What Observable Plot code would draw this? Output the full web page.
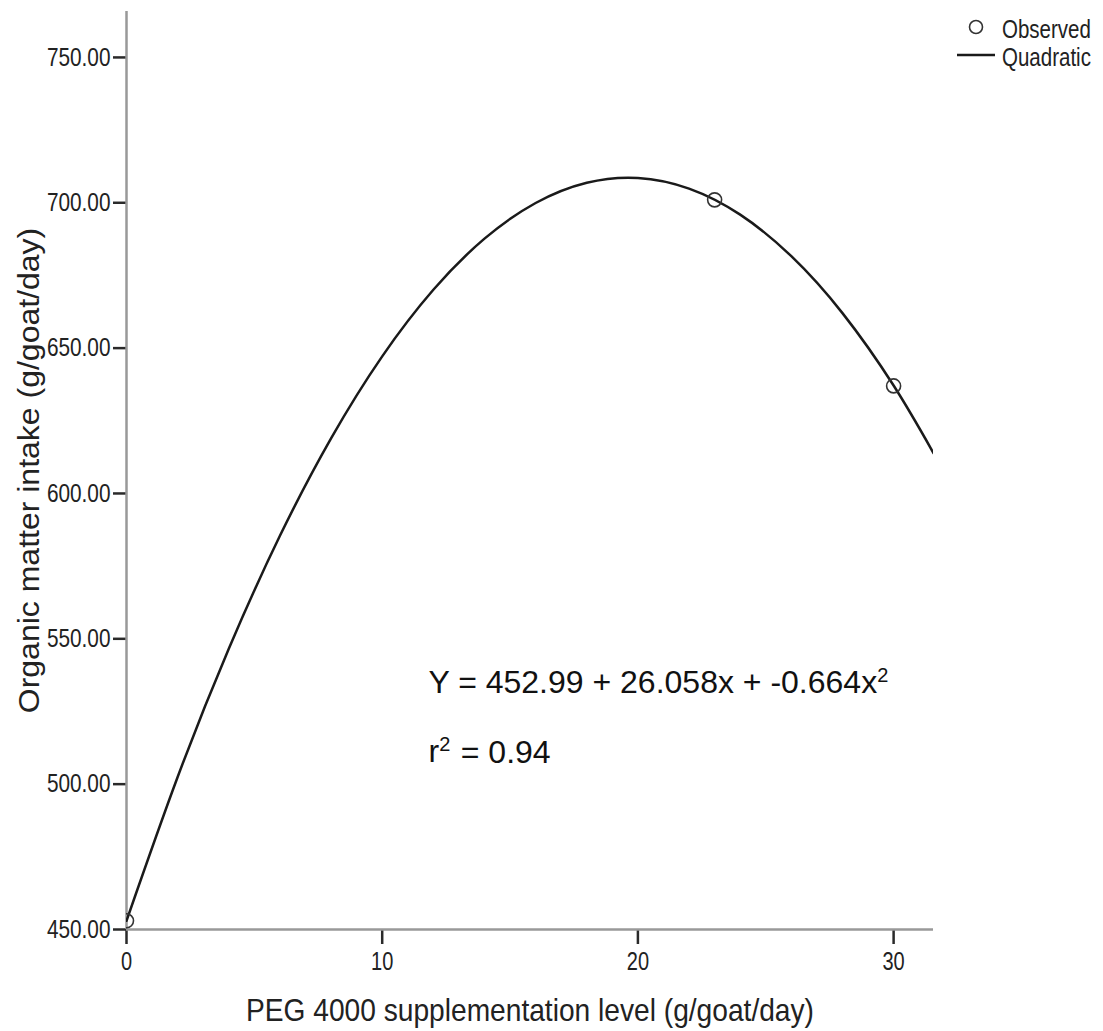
<!DOCTYPE html>
<html>
<head>
<meta charset="utf-8">
<script src="https://cdn.jsdelivr.net/npm/d3@7"></script>
<script src="https://cdn.jsdelivr.net/npm/@observablehq/plot@0.6"></script>
<style>
  body { margin: 0; background: #fff; font-family: "Liberation Sans", Arial, sans-serif; }
  #wrap { position: relative; width: 1103px; height: 1031px; overflow: hidden; }
  .lg { position: absolute; font-size: 25px; line-height: 25px; color: #222; transform-origin: 0 50%; transform: scaleX(0.82); white-space: nowrap; }
</style>
</head>
<body>
<div id="wrap"></div>
<script>
// ---- data ----
const observedX = [0, 23, 30];
const observedY = [453, 701, 637];
// quadratic fit curve
const fitX = [0, 2, 4, 6, 8, 10, 12, 14, 16, 18, 20, 22, 24, 26, 28, 30, 31.56];
const fitY = [452.99, 502.45, 546.60, 585.43, 618.96, 647.17, 670.07, 687.66, 699.93, 706.90, 708.55, 704.89, 695.92, 681.63, 662.04, 637.13, 613.90];
const xTicks = [0, 10, 20, 30];
const yTicks = [450, 500, 550, 600, 650, 700, 750];
const xTitle = "PEG 4000 supplementation level (g/goat/day)";
const yTitle = "Organic matter intake (g/goat/day)";
const eqText = "Y = 452.99 + 26.058x + -0.664x^2";
const r2Text = "r^2 = 0.94";
const legendLabels = ["Observed", "Quadratic"];

const observed = observedX.map((x, i) => ({x, y: observedY[i]}));
const fit = fitX.map((x, i) => ({x, y: fitY[i]}));
const notes = [
  {x: 11.81, y: 531.2, text: eqText},
  {x: 11.81, y: 507.45, text: r2Text}
];

const chart = Plot.plot({
  width: 1103,
  height: 1031,
  marginLeft: 126,
  marginRight: 170,
  marginTop: 11,
  marginBottom: 102,
  style: {fontFamily: '"Liberation Sans", Arial, sans-serif', color: "#222", background: "#fff"},
  x: {domain: [0, 31.56]},
  y: {domain: [450, 765.8]},
  marks: [
    Plot.axisY({ticks: yTicks, tickFormat: d => d.toFixed(2), tickSize: 13, tickPadding: 3,
                fontSize: 26, stroke: "#2a2a2a", strokeWidth: 2.5, label: null}),
    Plot.axisX({ticks: xTicks, tickFormat: d => String(d), tickSize: 15, tickPadding: 8,
                fontSize: 25, stroke: "#2a2a2a", strokeWidth: 2.5, label: null}),
    Plot.ruleX([0], {stroke: "#999", strokeWidth: 2.5}),
    Plot.ruleY([450], {stroke: "#999", strokeWidth: 2.5}),
    Plot.line(fit, {x: "x", y: "y", curve: "natural", stroke: "#1a1a1a", strokeWidth: 2.5, clip: true}),
    Plot.dot(observed, {x: "x", y: "y", r: 7, stroke: "#333", strokeWidth: 1.6, fill: "none", clip: true}),
    Plot.text(notes, {x: "x", y: "y", text: "text", textAnchor: "start", lineAnchor: "bottom",
                      fontSize: 32, fill: "#111"}),
    Plot.text([yTitle], {text: d => d, frameAnchor: "left", dx: -97, rotate: -90, fontSize: 32,
                         textAnchor: "middle", lineAnchor: "middle", fill: "#222"}),
    Plot.text([xTitle], {text: d => d, frameAnchor: "bottom", dy: 81, textAnchor: "middle", lineAnchor: "middle",
                         fontSize: 32, fill: "#222"})
  ]
});

// narrow the axis typography like the original (condensed glyphs)
function squeezeEl(t, sx) {
  const tr = t.getAttribute("transform") || "";
  const m = tr.match(/^\s*translate\([^)]*\)/);
  if (m) {
    t.setAttribute("transform", m[0] + ` scale(${sx},1)` + tr.slice(m[0].length));
  } else {
    const x = parseFloat(t.getAttribute("x")) || 0;
    t.setAttribute("x", 0);
    t.setAttribute("transform", `translate(${x},0) scale(${sx},1) ` + tr);
  }
}
chart.querySelectorAll('g[aria-label="y-axis tick label"] text').forEach(t => squeezeEl(t, 0.8));
chart.querySelectorAll('g[aria-label="x-axis tick label"] text').forEach(t => squeezeEl(t, 0.8));

const allTexts = Array.from(chart.querySelectorAll("text"));
allTexts.forEach(t => {
  const s = t.textContent;
  if (s === xTitle) squeezeEl(t, 0.88);
  else if (s === yTitle) squeezeEl(t, 0.95);
  else if (s === eqText || s === r2Text) {
    // superscript "^2"
    const k = s.indexOf("^");
    const before = s.slice(0, k), sup = s.slice(k + 1, k + 2), after = s.slice(k + 2);
    t.textContent = before;
    const ts = document.createElementNS("http://www.w3.org/2000/svg", "tspan");
    ts.setAttribute("dy", "-0.55em");
    ts.setAttribute("font-size", "20");
    ts.textContent = sup;
    t.appendChild(ts);
    if (after) {
      const ta = document.createElementNS("http://www.w3.org/2000/svg", "tspan");
      ta.setAttribute("dy", "0.344em");
      ta.setAttribute("dx", "0.05em");
      ta.textContent = after;
      t.appendChild(ta);
    }
  }
});

const wrap = document.getElementById("wrap");
wrap.appendChild(chart);

// legend (top-right)
const ns = "http://www.w3.org/2000/svg";
const sym = document.createElementNS(ns, "svg");
sym.setAttribute("width", "50");
sym.setAttribute("height", "60");
sym.style.position = "absolute";
sym.style.left = "952px";
sym.style.top = "10px";
const c = document.createElementNS(ns, "circle");
c.setAttribute("cx", "24"); c.setAttribute("cy", "17"); c.setAttribute("r", "6.5");
c.setAttribute("fill", "none"); c.setAttribute("stroke", "#333"); c.setAttribute("stroke-width", "1.6");
const l = document.createElementNS(ns, "line");
l.setAttribute("x1", "5"); l.setAttribute("x2", "43"); l.setAttribute("y1", "45"); l.setAttribute("y2", "45");
l.setAttribute("stroke", "#1a1a1a"); l.setAttribute("stroke-width", "2.6");
sym.appendChild(c); sym.appendChild(l);
wrap.appendChild(sym);

const tops = [17, 45];
legendLabels.forEach((s, i) => {
  const d = document.createElement("div");
  d.className = "lg";
  d.textContent = s;
  d.style.left = "1002px";
  d.style.top = tops[i] + "px";
  wrap.appendChild(d);
});
</script>
</body>
</html>
